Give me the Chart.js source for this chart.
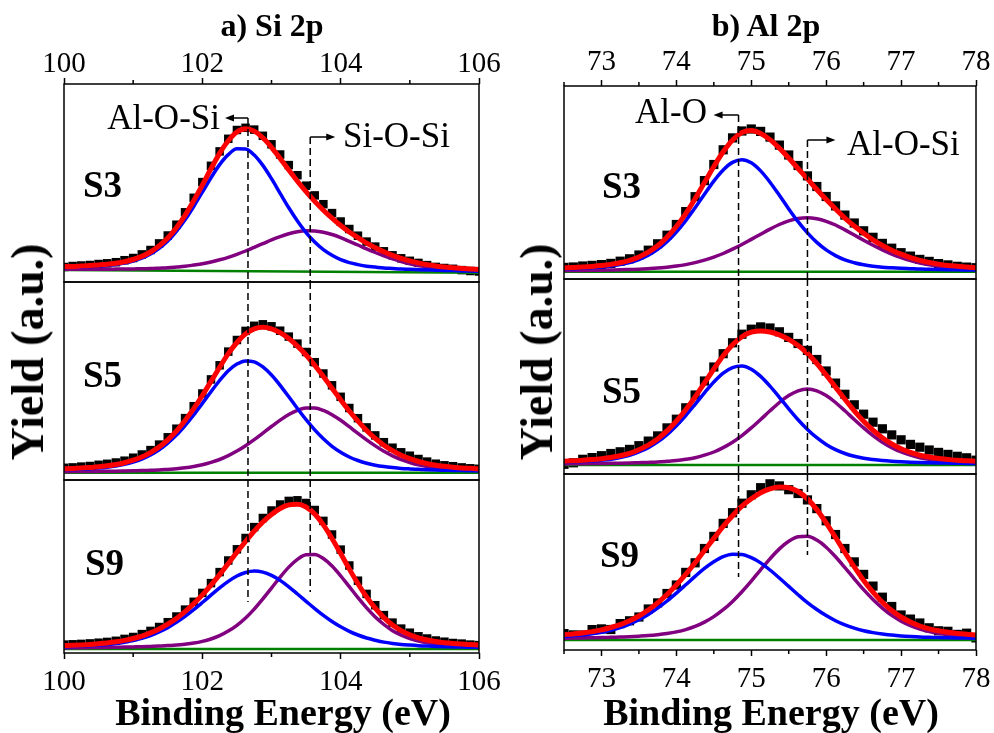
<!DOCTYPE html>
<html lang="en">
<head>
<meta charset="utf-8">
<title>XPS Si 2p / Al 2p</title>
<script src="https://cdn.jsdelivr.net/npm/chart.js"></script>
<style>
  body { margin: 0; background: #fff; }
  #wrap { position: relative; width: 994px; height: 733px; overflow: hidden;
          font-family: "Liberation Serif", "Times New Roman", serif; color: #000; }
  #wrap canvas { position: absolute; }
  .lbl { position: absolute; white-space: nowrap; line-height: 1; }
</style>
</head>
<body>
<div id="wrap"></div>
<script>
// binding energy grids (eV)
const siEnergy = [100, 100.125, 100.25, 100.375, 100.5, 100.625, 100.75, 100.875, 101, 101.125, 101.25, 101.375, 101.5, 101.625, 101.75, 101.875, 102, 102.125, 102.25, 102.375, 102.5, 102.625, 102.75, 102.875, 103, 103.125, 103.25, 103.375, 103.5, 103.625, 103.75, 103.875, 104, 104.125, 104.25, 104.375, 104.5, 104.625, 104.75, 104.875, 105, 105.125, 105.25, 105.375, 105.5, 105.625, 105.75, 105.875, 106];
const alEnergy = [72.5, 72.625, 72.75, 72.875, 73, 73.125, 73.25, 73.375, 73.5, 73.625, 73.75, 73.875, 74, 74.125, 74.25, 74.375, 74.5, 74.625, 74.75, 74.875, 75, 75.125, 75.25, 75.375, 75.5, 75.625, 75.75, 75.875, 76, 76.125, 76.25, 76.375, 76.5, 76.625, 76.75, 76.875, 77, 77.125, 77.25, 77.375, 77.5, 77.625, 77.75, 77.875, 78];
const siEnds = [100, 106];
const alEnds = [72.5, 78];

// a) Si 2p  (yield, a.u.)
const siS3Data = [15, 16, 16.5, 17, 18, 18.7, 19.8, 21.8, 24, 27.6, 32, 38.6, 46.5, 57.3, 69.7, 84.2, 99.9, 116.2, 130.6, 143.2, 152, 154.2, 152.4, 146.2, 137.7, 127.5, 116.9, 106.8, 96.3, 86.6, 77.8, 68.9, 60.5, 53, 46.3, 40.4, 35.4, 30.7, 26.7, 23.7, 21.2, 19.1, 16.9, 15.1, 14, 13.2, 11.9, 11, 10.5];
const siS3Fit = [15.4, 15.6, 16.0, 16.4, 17.0, 17.7, 18.8, 20.3, 22.5, 25.6, 30.0, 36.1, 44.0, 54.3, 66.7, 81.2, 96.9, 113.2, 128.6, 141.2, 150.0, 153.2, 150.9, 144.2, 134.7, 123.5, 111.9, 100.8, 90.3, 80.6, 71.8, 63.9, 56.5, 50.0, 44.3, 38.9, 34.4, 30.2, 26.7, 23.7, 21.2, 19.1, 17.4, 16.1, 15.0, 14.2, 13.4, 13.0, 12.5];
const siS3AlOSi = [14.6, 14.8, 15.1, 15.5, 16.0, 16.6, 17.6, 18.9, 21.0, 23.8, 28.0, 33.7, 41.1, 50.7, 62.2, 75.5, 89.8, 104.2, 117.4, 127.4, 133.2, 133.0, 127.0, 116.6, 103.3, 88.7, 74.2, 61.0, 49.4, 39.9, 32.3, 26.7, 22.3, 19.4, 17.4, 15.8, 14.9, 14.0, 13.5, 13.0, 12.7, 12.3, 12.0, 11.8, 11.5, 11.4, 11.1, 11.0, 10.8];
const siS3SiOSi = [12.8, 12.7, 12.8, 12.7, 12.8, 12.8, 12.9, 13.0, 13.1, 13.3, 13.4, 13.8, 14.2, 14.9, 15.7, 16.9, 18.2, 20.0, 22.2, 24.7, 27.7, 31.0, 34.7, 38.3, 42.1, 45.4, 48.2, 50.3, 51.3, 51.1, 49.8, 47.5, 44.4, 40.7, 37.0, 33.1, 29.5, 26.1, 23.1, 20.5, 18.3, 16.5, 15.0, 13.9, 13.0, 12.3, 11.7, 11.4, 11.0];
const siS3Bg = [12, 9.3];

const siS5Data = [12.2, 12.6, 13.4, 14, 15.2, 16.2, 17.5, 19.3, 22.3, 25.5, 29.9, 35.4, 42.7, 51.3, 61.9, 73.8, 86.5, 100.6, 114.7, 128.4, 140, 149.1, 154.2, 155.7, 153.7, 149.3, 143.4, 136.4, 128, 117.8, 106.5, 94.7, 83.2, 72, 61.8, 52.6, 44.6, 37.8, 32.3, 27.7, 24.3, 21, 18.4, 16.3, 14.7, 13.8, 12.6, 11.7, 11.2];
const siS5Fit = [11.2, 11.6, 11.9, 12.5, 13.2, 14.2, 15.5, 17.3, 19.8, 23.0, 27.4, 32.9, 40.2, 48.8, 59.4, 71.3, 84.5, 98.6, 112.7, 126.4, 137.5, 146.1, 151.2, 152.7, 151.2, 147.3, 141.4, 133.9, 125.0, 114.8, 103.5, 91.7, 80.2, 69.0, 58.8, 49.6, 41.6, 34.8, 29.3, 24.7, 21.3, 18.5, 16.4, 14.8, 13.7, 12.8, 12.1, 11.7, 11.2];
const siS5AlOSi = [10.2, 10.5, 10.8, 11.3, 11.9, 12.8, 14.0, 15.6, 17.9, 20.9, 25.0, 30.2, 36.9, 44.9, 54.5, 65.1, 76.6, 88.3, 99.5, 109.3, 115.9, 119.1, 118.2, 113.1, 105.0, 94.7, 83.2, 71.5, 60.3, 50.1, 41.2, 33.7, 27.8, 23.0, 19.5, 16.8, 14.8, 13.4, 12.4, 11.6, 11.1, 10.7, 10.3, 10.0, 9.8, 9.6, 9.4, 9.3, 9.1];
const siS5SiOSi = [8.3, 8.4, 8.4, 8.5, 8.6, 8.7, 8.8, 9.0, 9.2, 9.4, 9.7, 10.0, 10.6, 11.2, 12.2, 13.5, 15.2, 17.6, 20.5, 24.4, 28.9, 34.3, 40.3, 46.9, 53.5, 59.9, 65.5, 69.7, 72.0, 72.0, 69.6, 65.3, 59.7, 53.3, 46.6, 40.1, 34.1, 28.7, 24.2, 20.4, 17.5, 15.1, 13.4, 12.1, 11.2, 10.5, 10.0, 9.7, 9.4];
const siS5Bg = [7.3, 7.3];

const siS9Data = [8.4, 8.7, 9.1, 9.6, 10.3, 11.1, 12.2, 14.1, 16, 18.9, 22.1, 26, 30.8, 36.5, 43.4, 51.2, 60.1, 69.9, 80.9, 92.5, 103.7, 115, 125.9, 135, 142.5, 148.5, 152.1, 152.7, 150, 143, 132.1, 118.5, 103.4, 87.5, 72.3, 59.1, 47.8, 37.9, 30.4, 24.4, 20.3, 16.7, 14.5, 12.5, 11.3, 10, 9.4, 8.4, 7.9];
const siS9Fit = [7.4, 7.7, 8.1, 8.6, 9.3, 10.1, 11.2, 12.6, 14.5, 16.9, 20.1, 24.0, 28.8, 34.5, 41.4, 49.2, 58.1, 67.9, 78.4, 89.5, 100.7, 111.5, 121.9, 131.0, 138.5, 144.5, 148.1, 148.7, 146.0, 139.0, 128.1, 114.5, 99.4, 84.0, 69.3, 56.1, 44.8, 35.4, 27.9, 22.4, 18.3, 15.2, 13.0, 11.5, 10.3, 9.5, 8.9, 8.4, 7.9];
const siS9AlOSi = [6.3, 6.5, 6.8, 7.2, 7.8, 8.5, 9.4, 10.7, 12.4, 14.6, 17.5, 21.1, 25.4, 30.6, 36.6, 43.3, 50.5, 57.9, 65.1, 71.6, 77.0, 80.5, 82.0, 80.9, 77.6, 72.6, 66.2, 59.0, 51.7, 44.4, 37.6, 31.5, 26.2, 21.7, 18.0, 15.0, 12.8, 10.9, 9.6, 8.6, 7.9, 7.3, 6.9, 6.6, 6.3, 6.1, 5.9, 5.8, 5.6];
const siS9SiOSi = [5.1, 5.2, 5.3, 5.4, 5.5, 5.6, 5.8, 5.9, 6.1, 6.3, 6.6, 6.9, 7.4, 7.9, 8.8, 9.9, 11.6, 14.0, 17.3, 21.9, 27.7, 35.0, 43.9, 54.1, 64.9, 75.9, 85.9, 93.7, 98.3, 98.6, 94.5, 87.0, 77.2, 66.3, 55.3, 45.1, 36.0, 28.5, 22.3, 17.8, 14.4, 11.9, 10.1, 8.9, 8.0, 7.4, 7.0, 6.6, 6.3];
const siS9Bg = [4, 4];

// b) Al 2p
const alS3Data = [11.6, 12, 13, 13.6, 14.4, 15.6, 17.8, 20.2, 24, 28.8, 35.2, 43.8, 54.5, 67.4, 82.3, 98.4, 114.5, 129.2, 141.1, 148, 150, 147.6, 141.9, 133.9, 124, 113.5, 103.1, 92.5, 82.5, 73.1, 63.9, 56, 48.2, 41.7, 35.6, 30.8, 26.3, 22.9, 19.6, 17.6, 15.4, 14.1, 12.7, 11.9, 11.3];
const alS3Fit = [11.1, 11.5, 12.0, 12.6, 13.4, 14.6, 16.3, 18.7, 22.0, 26.8, 33.2, 41.8, 52.5, 65.4, 80.3, 96.4, 112.5, 127.2, 139.1, 146.5, 148.5, 145.6, 139.4, 130.9, 121.0, 110.5, 100.1, 89.5, 79.5, 70.1, 60.9, 53.0, 45.7, 39.2, 33.6, 28.8, 24.8, 21.4, 18.6, 16.6, 14.9, 13.6, 12.7, 11.9, 11.3];
const alS3AlO = [10.0, 10.3, 10.7, 11.2, 11.9, 12.9, 14.4, 16.5, 19.5, 23.8, 29.6, 37.3, 46.9, 58.3, 71.2, 84.8, 97.9, 109.0, 116.6, 119.3, 116.2, 108.1, 96.8, 83.7, 70.1, 57.3, 46.1, 36.6, 29.1, 23.4, 19.1, 16.3, 14.2, 12.8, 11.8, 11.2, 10.7, 10.3, 9.9, 9.7, 9.5, 9.3, 9.2, 9.0, 8.9];
const alS3AlOSi = [8.4, 8.5, 8.6, 8.7, 8.8, 9.0, 9.2, 9.5, 9.8, 10.3, 10.9, 11.8, 12.9, 14.4, 16.4, 18.9, 21.9, 25.5, 29.8, 34.5, 39.6, 44.8, 49.9, 54.5, 58.2, 60.5, 61.3, 60.2, 57.7, 54.0, 49.1, 44.0, 38.8, 33.7, 29.1, 24.9, 21.4, 18.4, 16.0, 14.2, 12.7, 11.6, 10.8, 10.2, 9.7];
const alS3Bg = [7.3, 7.3];

const alS5Data = [9.7, 11.2, 14.7, 16.4, 18.3, 20.5, 22.2, 24.6, 28.3, 32.9, 38.1, 46.1, 54.8, 66.2, 79, 93, 107, 120.3, 131.2, 139.8, 144.8, 147.1, 146, 142.2, 136.6, 130.5, 123.6, 114.5, 103, 90.9, 79.7, 69.2, 59.8, 51.8, 45.2, 39.1, 34.2, 29.6, 26.8, 24, 21.6, 19.6, 17.7, 16.2, 13.8];
const alS5Fit = [12.7, 13.2, 13.7, 14.4, 15.3, 16.5, 18.2, 20.6, 24.3, 28.9, 35.1, 43.1, 52.8, 64.2, 77.0, 91.0, 105.0, 118.3, 129.2, 137.3, 141.8, 143.1, 142.0, 139.2, 134.6, 128.5, 120.6, 110.5, 99.0, 86.9, 74.7, 63.2, 52.8, 43.8, 36.2, 30.1, 25.2, 21.6, 18.8, 17.0, 15.6, 14.6, 13.7, 13.2, 12.8];
const alS5AlO = [11.6, 12.0, 12.4, 13.0, 13.8, 14.8, 16.4, 18.6, 22.0, 26.3, 32.1, 39.4, 48.3, 58.5, 69.7, 81.2, 92.0, 100.9, 106.4, 107.9, 104.7, 97.6, 87.8, 76.7, 65.2, 54.3, 44.6, 36.3, 29.6, 24.4, 20.5, 17.7, 15.7, 14.4, 13.4, 12.7, 12.2, 11.8, 11.5, 11.3, 11.1, 10.9, 10.7, 10.6, 10.5];
const alS5AlOSi = [10.1, 10.2, 10.3, 10.4, 10.5, 10.7, 10.8, 11.0, 11.3, 11.6, 12.0, 12.7, 13.5, 14.7, 16.3, 18.8, 22.0, 26.4, 31.8, 38.4, 46.1, 54.5, 63.2, 71.5, 78.4, 83.2, 85.0, 83.2, 78.4, 71.5, 63.2, 54.5, 46.1, 38.4, 31.8, 26.4, 22.0, 18.8, 16.3, 14.7, 13.5, 12.7, 12.0, 11.6, 11.3];
const alS5Bg = [9, 9];

const alS9Data = [16.4, 15.1, 15, 20.4, 21.1, 20.5, 26.4, 29.2, 33, 41, 47.1, 56.5, 65, 77.6, 87.2, 101.5, 113.6, 126.6, 137.3, 146.8, 155.2, 162.3, 166.2, 164.1, 160.3, 156.5, 150.1, 141.4, 129.2, 115.5, 101.5, 88.1, 75.6, 63.9, 52.8, 43.5, 35, 30.9, 27, 22.2, 19.2, 18.7, 15.6, 16.8, 12.1];
const alS9Fit = [15.4, 16.1, 17.0, 18.4, 20.1, 22.5, 25.4, 29.2, 34.0, 40.0, 47.1, 55.5, 65.0, 75.6, 87.2, 99.5, 111.6, 123.6, 134.3, 143.8, 151.2, 157.3, 161.2, 163.1, 162.3, 158.5, 151.1, 140.4, 127.2, 112.5, 97.5, 83.1, 69.6, 57.9, 47.8, 39.5, 33.0, 27.9, 24.0, 21.2, 19.2, 17.7, 16.6, 15.8, 15.1];
const alS9AlO = [13.6, 14.2, 15.0, 16.2, 17.7, 19.8, 22.4, 25.9, 30.2, 35.6, 41.8, 49.0, 56.9, 65.2, 73.6, 81.6, 88.2, 93.3, 95.7, 95.5, 92.3, 87.1, 80.0, 72.0, 63.6, 55.3, 47.4, 40.5, 34.4, 29.3, 25.1, 21.9, 19.3, 17.4, 15.9, 14.9, 14.1, 13.5, 13.0, 12.7, 12.5, 12.2, 12.0, 11.9, 11.7];
const alS9AlOSi = [11.8, 11.9, 12.0, 12.2, 12.4, 12.7, 13.0, 13.3, 13.8, 14.4, 15.3, 16.5, 18.1, 20.4, 23.6, 27.9, 33.4, 40.3, 48.6, 58.3, 68.9, 80.2, 91.2, 101.1, 108.7, 113.2, 113.7, 109.9, 102.8, 93.2, 82.4, 71.2, 60.3, 50.5, 41.9, 34.6, 28.9, 24.4, 21.0, 18.5, 16.7, 15.5, 14.6, 13.9, 13.4];
const alS9Bg = [10, 10];

// peak positions marked by the dashed guides (eV)
const siPeaks = [102.66, 103.56];
const alPeaks = [74.83, 75.75];

const FONT = '"Liberation Serif", "Times New Roman", serif';
const wrap = document.getElementById('wrap');

function addText(txt, x, base, size, bold, align) {
  const d = document.createElement('div');
  d.className = 'lbl';
  d.textContent = txt;
  d.style.fontSize = size + 'px';
  d.style.fontWeight = bold ? 'bold' : 'normal';
  d.style.left = x + 'px';
  d.style.top = (base - 0.8375 * size) + 'px';
  if (align === 'center') d.style.transform = 'translateX(-50%)';
  if (align === 'right') d.style.transform = 'translateX(-100%)';
  wrap.appendChild(d);
}

function addVertical(txt, cx, cy, size) {
  const d = document.createElement('div');
  d.className = 'lbl';
  d.textContent = txt;
  d.style.fontSize = size + 'px';
  d.style.fontWeight = 'bold';
  d.style.left = cx + 'px';
  d.style.top = cy + 'px';
  d.style.transform = 'translate(-50%, -50%) rotate(-90deg)';
  wrap.appendChild(d);
}

// box around the plot, short minor ticks and the arrows on the guides
function framePlugin(p) {
  return {
    id: 'frame',
    afterDraw(chart) {
      const { ctx, chartArea: a } = chart;
      const xs = chart.scales.x, ys = chart.scales.y;
      ctx.save();
      ctx.strokeStyle = '#000';
      ctx.fillStyle = '#000';
      ctx.lineWidth = 1.5;
      ctx.strokeRect(a.left, a.top, a.right - a.left, a.bottom - a.top);
      if (p.role !== 'mid') {
        const edge = p.role === 'top' ? a.top : a.bottom;
        const s = p.role === 'top' ? -1 : 1;
        ctx.beginPath();
        xs.ticks.forEach(t => {
          if (p.isMajor(t.value)) return;
          const px = xs.getPixelForValue(t.value);
          ctx.moveTo(px, edge);
          ctx.lineTo(px, edge + s * 4);
        });
        ctx.stroke();
      }
      (p.arrows || []).forEach(ar => {
        const x0 = xs.getPixelForValue(ar.x);
        const y0 = ys.getPixelForValue(ar.y);
        const x1 = x0 + ar.dir * ar.len;
        ctx.beginPath();
        ctx.moveTo(x0, y0);
        ctx.lineTo(x1 - ar.dir * 6, y0);
        ctx.stroke();
        ctx.beginPath();
        ctx.moveTo(x1, y0);
        ctx.lineTo(x1 - ar.dir * 9, y0 - 3.5);
        ctx.lineTo(x1 - ar.dir * 9, y0 + 3.5);
        ctx.closePath();
        ctx.fill();
      });
      ctx.restore();
    }
  };
}

function buildChart(p) {
  const padX = 40, axisH = 50, edge = 10;
  const w = p.R - p.L + 2 * padX;
  const plotH = p.B - p.T;
  const topPad = p.role === 'top' ? axisH : edge;
  const botPad = p.role === 'bottom' ? axisH : edge;
  const canvas = document.createElement('canvas');
  canvas.width = w;
  canvas.height = plotH + topPad + botPad;
  canvas.style.left = (p.L - padX) + 'px';
  canvas.style.top = (p.T - topPad) + 'px';
  canvas.style.width = w + 'px';
  canvas.style.height = canvas.height + 'px';
  wrap.appendChild(canvas);

  const pts = (xs, ys) => xs.map((x, i) => ({ x: x, y: ys[i] }));
  const datasets = [];
  p.guides.forEach(g => datasets.push({
    data: [{ x: g.x, y: g.from }, { x: g.x, y: g.to }],
    borderColor: '#000', borderWidth: 1.5, borderDash: [7, 4], pointRadius: 0
  }));
  datasets.push({ data: pts(p.energy, p.fit), borderColor: '#ff0000', borderWidth: 5, pointRadius: 0, cubicInterpolationMode: 'monotone' });
  datasets.push({ data: pts(p.energy, p.peak1), borderColor: '#0000ff', borderWidth: 3.5, pointRadius: 0, cubicInterpolationMode: 'monotone' });
  datasets.push({ data: pts(p.energy, p.peak2), borderColor: '#800080', borderWidth: 3.5, pointRadius: 0, cubicInterpolationMode: 'monotone' });
  datasets.push({ data: pts(p.ends, p.bg), borderColor: '#008000', borderWidth: 2.5, pointRadius: 0 });
  datasets.push({
    data: pts(p.energy, p.data), showLine: false, pointStyle: 'rect', pointRadius: p.square,
    pointBackgroundColor: '#000', pointBorderColor: '#000', pointBorderWidth: 0
  });

  const shown = p.role !== 'mid';
  new Chart(canvas, {
    type: 'line',
    data: { datasets: datasets },
    options: {
      responsive: false,
      animation: false,
      devicePixelRatio: 1,
      layout: { padding: { left: padX, right: padX, top: p.role === 'top' ? 0 : edge, bottom: p.role === 'bottom' ? 0 : edge } },
      plugins: { legend: { display: false }, tooltip: { enabled: false } },
      scales: {
        x: {
          type: 'linear', min: p.min, max: p.max,
          position: p.role === 'top' ? 'top' : 'bottom',
          display: shown,
          afterFit: s => { s.height = shown ? axisH : 0; },
          border: { display: false },
          grid: {
            drawOnChartArea: false, drawTicks: true, tickLength: 6, tickWidth: 1.5,
            tickColor: c => (c.tick && p.isMajor(c.tick.value)) ? '#000' : 'rgba(0,0,0,0)'
          },
          ticks: {
            stepSize: p.step, autoSkip: false, maxRotation: 0, color: '#000',
            padding: p.role === 'top' ? p.topPadding : 6,
            font: { family: FONT, size: 29 },
            callback: v => p.isMajor(v) ? String(v) : ''
          }
        },
        y: { display: false, min: 0, max: plotH }
      }
    },
    plugins: [framePlugin(p)]
  });
}

const siMajor = v => Math.abs(v % 2) < 1e-6;
const alMajor = v => Math.abs(v - Math.round(v)) < 1e-6;

const siBase = { L: 64, R: 479, min: 100, max: 106, step: 1, isMajor: siMajor, energy: siEnergy, ends: siEnds, square: 6, topPadding: -4 };
const alBase = { L: 564, R: 976, min: 72.5, max: 78, step: 0.5, isMajor: alMajor, energy: alEnergy, ends: alEnds, square: 6.5, topPadding: 0 };

const subplots = [
  Object.assign({}, siBase, { T: 84, B: 282, role: 'top', data: siS3Data, fit: siS3Fit, peak1: siS3AlOSi, peak2: siS3SiOSi, bg: siS3Bg,
    guides: [{ x: siPeaks[0], from: 164, to: 0 }, { x: siPeaks[1], from: 145, to: 0 }],
    arrows: [{ x: siPeaks[0], y: 164, dir: -1, len: 23 }, { x: siPeaks[1], y: 145, dir: 1, len: 25 }] }),
  Object.assign({}, siBase, { T: 282, B: 480, role: 'mid', data: siS5Data, fit: siS5Fit, peak1: siS5AlOSi, peak2: siS5SiOSi, bg: siS5Bg,
    guides: [{ x: siPeaks[0], from: 198, to: 0 }, { x: siPeaks[1], from: 198, to: 0 }] }),
  Object.assign({}, siBase, { T: 480, B: 653, role: 'bottom', data: siS9Data, fit: siS9Fit, peak1: siS9AlOSi, peak2: siS9SiOSi, bg: siS9Bg,
    guides: [{ x: siPeaks[0], from: 173, to: 51 }, { x: siPeaks[1], from: 173, to: 61 }] }),
  Object.assign({}, alBase, { T: 86, B: 279, role: 'top', data: alS3Data, fit: alS3Fit, peak1: alS3AlO, peak2: alS3AlOSi, bg: alS3Bg,
    guides: [{ x: alPeaks[0], from: 164, to: 0 }, { x: alPeaks[1], from: 139, to: 0 }],
    arrows: [{ x: alPeaks[0], y: 164, dir: -1, len: 25 }, { x: alPeaks[1], y: 139, dir: 1, len: 28 }] }),
  Object.assign({}, alBase, { T: 279, B: 474, role: 'mid', data: alS5Data, fit: alS5Fit, peak1: alS5AlO, peak2: alS5AlOSi, bg: alS5Bg,
    guides: [{ x: alPeaks[0], from: 195, to: 0 }, { x: alPeaks[1], from: 195, to: 0 }] }),
  Object.assign({}, alBase, { T: 474, B: 650, role: 'bottom', data: alS9Data, fit: alS9Fit, peak1: alS9AlO, peak2: alS9AlOSi, bg: alS9Bg,
    guides: [{ x: alPeaks[0], from: 176, to: 73 }, { x: alPeaks[1], from: 176, to: 95 }] })
];

subplots.forEach(buildChart);

// titles and labels
addText('a) Si 2p', 272, 36, 32, true, 'center');
addText('b) Al 2p', 766, 36, 32, true, 'center');
addText('Binding Energy (eV)', 283, 725, 38, true, 'center');
addText('Binding Energy (eV)', 771, 725, 38, true, 'center');
addVertical('Yield (a.u.)', 28, 352, 46);
addVertical('Yield (a.u.)', 537, 352, 46);

addText('S3', 83, 197, 37, true);
addText('S5', 83, 387, 37, true);
addText('S9', 85, 575, 37, true);
addText('S3', 602, 198, 37, true);
addText('S5', 602, 403, 37, true);
addText('S9', 600, 567, 37, true);

addText('Al-O-Si', 220, 129, 35, false, 'right');
addText('Si-O-Si', 343, 147, 35, false);
addText('Al-O', 707, 123, 35, false, 'right');
addText('Al-O-Si', 847, 155, 35, false);
</script>
</body>
</html>
